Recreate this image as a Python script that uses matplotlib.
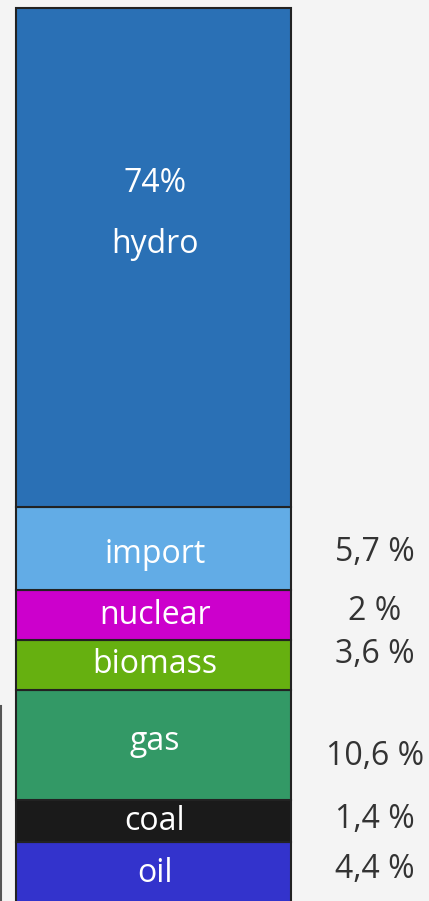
import matplotlib.pyplot as plt

# dados: do fundo para o topo
fontes = ["oil", "coal", "gas", "biomass", "nuclear", "import", "hydro"]
percentuais = ["4,4 %", "1,4 %", "10,6 %", "3,6 %", "2 %", "5,7 %", "74%"]
# altura de cada bloco como aparece no desenho (nao proporcional)
alturas = [64, 42, 110, 50, 50, 83, 499]
cores = ["#3333cc", "#1a1a1a", "#339966", "#66b010", "#cc00cc", "#62ace6", "#2a70b5"]

plt.rcParams['font.family'] = ['Open Sans', 'DejaVu Sans']

fig = plt.figure(figsize=(4.29, 9.01), dpi=100)
fig.patch.set_facecolor("#f4f4f4")
ax = fig.add_axes([0, 0, 1, 1])
ax.set_facecolor("#f4f4f4")
ax.set_xlim(0, 429)
ax.set_ylim(0, 901)
ax.axis("off")

base = -5
centros = []
for h, c in zip(alturas, cores):
    ax.bar(153.5, h, width=275, bottom=base, color=c, edgecolor="#222222", linewidth=1.5)
    centros.append(base + h / 2)
    base += h

tam = 23

# textos dentro das barras (deslocamento da linha de base em relacao ao centro)
desl_dentro = [8, 9, 5, 8, 9, 14.5]
for i, nome in enumerate(fontes[:-1]):
    ax.text(155, centros[i] - desl_dentro[i], nome, color="white", fontsize=tam,
            ha="center", va="baseline")

# hydro tem o percentual dentro
topo = centros[-1] + alturas[-1] / 2
ax.text(155, topo - 184, percentuais[-1], color="white", fontsize=tam, ha="center", va="baseline")
ax.text(155, topo - 245, fontes[-1], color="white", fontsize=tam, ha="center", va="baseline")

# percentuais a direita
desl_fora = [4, 7, 20, -2, 5, 12.5]
for i, p in enumerate(percentuais[:-1]):
    ax.text(375, centros[i] - desl_fora[i], p, color="#333333", fontsize=tam,
            ha="center", va="baseline")

# linha fina na esquerda
ax.plot([1, 1], [0, 901 - 706], color="#555555", linewidth=1.5)

fig.savefig("out.png", dpi=100, facecolor=fig.get_facecolor())
